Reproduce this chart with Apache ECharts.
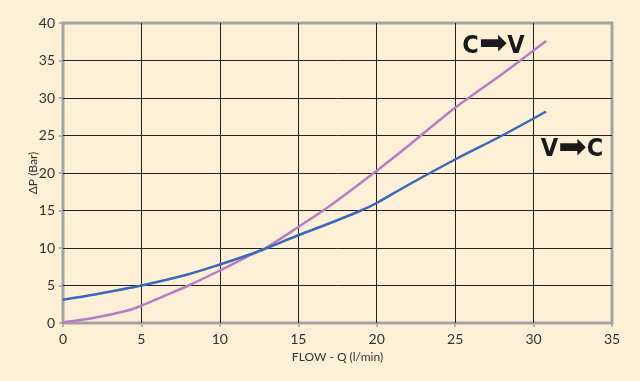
<!DOCTYPE html>
<html><head><meta charset="utf-8">
<script src="https://cdn.jsdelivr.net/npm/echarts@6/dist/echarts.min.js"></script>
<style>html,body{margin:0;padding:0;background:#fdf0d7;}#c{width:640px;height:381px;}</style>
</head><body><div id="c"></div>
<script>
const xTicks = [0, 5, 10, 15, 20, 25, 30, 35];
const yTicks = [0, 5, 10, 15, 20, 25, 30, 35, 40];
const vcFlow = [0, 2, 5, 8, 10, 12, 13, 15, 17, 19, 20, 22, 25, 28, 30.8];
const vcDp   = [3.1, 3.8, 5.0, 6.5, 7.8, 9.2, 10.0, 11.7, 13.3, 15.0, 16.0, 18.4, 21.8, 25.0, 28.2];
const cvFlow = [0, 2, 4, 5, 6, 8, 10, 12, 13, 15, 17, 20, 22, 25, 28, 30.8];
const cvDp   = [0.1, 0.7, 1.6, 2.3, 3.2, 5.0, 7.0, 9.1, 10.1, 12.8, 15.6, 20.3, 23.6, 28.7, 33.2, 37.6];
const labelCV = ['C', 'V'];
const labelVC = ['V', 'C'];

const chart = echarts.init(document.getElementById('c'));
const font = 'Lato, "Open Sans", sans-serif';
const rich = {
  t: { fontFamily: '"DejaVu Sans Condensed", "Liberation Sans Narrow", sans-serif', fontWeight: 'bold', fontSize: 25, color: '#1a1a1a', verticalAlign: 'middle' },
  a: { fontFamily: '"DejaVu Sans", sans-serif', fontSize: 34, color: '#1a1a1a', verticalAlign: 'middle', padding: [0, 0, 2, 0] }
};
const fmt = p => '{t|' + p[0] + '}{a|➡}{t|' + p[1] + '}';
chart.setOption({
  backgroundColor: '#fdf0d7',
  animation: false,
  grid: { left: 63, right: 28, top: 23, bottom: 58, show: true, borderColor: '#a3a3a3', borderWidth: 3, backgroundColor: 'transparent' },
  xAxis: {
    type: 'value', min: xTicks[0], max: xTicks[xTicks.length-1], interval: 5,
    name: 'FLOW - Q (l/min)', nameLocation: 'middle', nameGap: 26,
    nameTextStyle: { fontFamily: font, fontSize: 12, color: '#333' },
    axisLine: { show: false },
    axisTick: { show: true, length: 4, lineStyle: { color: '#a3a3a3', width: 1.5 } },
    axisLabel: { fontFamily: font, fontSize: 14, color: '#333', margin: 9 },
    splitLine: { show: true, showMinLine: false, showMaxLine: false, lineStyle: { color: '#222', width: 1 } }
  },
  yAxis: {
    type: 'value', min: yTicks[0], max: yTicks[yTicks.length-1], interval: 5,
    name: 'ΔP (Bar)', nameLocation: 'middle', nameGap: 24, nameMoveOverlap: false,
    nameTextStyle: { fontFamily: font, fontSize: 12, color: '#333' },
    axisLine: { show: false },
    axisTick: { show: true, length: 4, lineStyle: { color: '#a3a3a3', width: 1.5 } },
    axisLabel: { fontFamily: font, fontSize: 14, color: '#333', margin: 8 },
    splitLine: { show: true, showMinLine: false, showMaxLine: false, lineStyle: { color: '#222', width: 1 } }
  },
  series: [
    { type: 'line', data: cvFlow.map((x,i)=>[x,cvDp[i]]), smooth: 0.3, showSymbol: false,
      lineStyle: { color: '#b97cc2', width: 2.5 }, z: 3,
      markPoint: { symbol: 'circle', symbolSize: 0, label: { show: true, formatter: fmt(labelCV), rich: rich },
        data: [{ coord: [27.45, 36.9] }] } },
    { type: 'line', data: vcFlow.map((x,i)=>[x,vcDp[i]]), smooth: 0.3, showSymbol: false,
      lineStyle: { color: '#3b68bd', width: 2.5 }, z: 3,
      markPoint: { symbol: 'circle', symbolSize: 0, label: { show: true, formatter: fmt(labelVC), rich: rich },
        data: [{ coord: [32.45, 23.1] }] } }
  ]
});
</script></body></html>
